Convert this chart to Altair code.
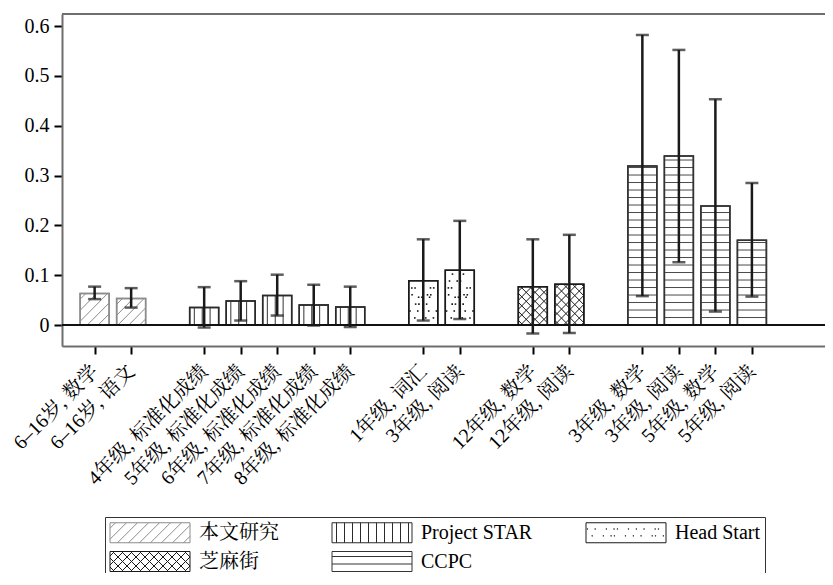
import altair as alt
import numpy as np
import pandas as pd

# ---------------- data ----------------
labels = ["6–16岁, 数学", "6–16岁, 语文",
          "4年级, 标准化成绩", "5年级, 标准化成绩", "6年级, 标准化成绩", "7年级, 标准化成绩", "8年级, 标准化成绩",
          "1年级, 词汇", "3年级, 阅读",
          "12年级, 数学", "12年级, 阅读",
          "3年级, 数学", "3年级, 阅读", "5年级, 数学", "5年级, 阅读"]
studies = ["本文研究"] * 2 + ["Project STAR"] * 5 + ["Head Start"] * 2 + ["芝麻街"] * 2 + ["CCPC"] * 4
slots = [0, 1, 3, 4, 5, 6, 7, 9, 10, 12, 13, 15, 16, 17, 18]
effects = [0.063, 0.053, 0.035, 0.048, 0.059, 0.040, 0.036, 0.089, 0.110, 0.077, 0.082, 0.319, 0.339, 0.239, 0.170]
lows = [0.052, 0.035, -0.005, 0.009, 0.019, -0.001, -0.004, 0.009, 0.012, -0.017, -0.016, 0.058, 0.126, 0.027, 0.057]
highs = [0.077, 0.074, 0.076, 0.088, 0.101, 0.081, 0.077, 0.172, 0.209, 0.172, 0.181, 0.582, 0.552, 0.453, 0.285]
study_order = ["本文研究", "Project STAR", "Head Start", "芝麻街", "CCPC"]
y_ticks = [0, 0.1, 0.2, 0.3, 0.4, 0.5, 0.6]

# ---------------- styling ----------------
FONT = "Liberation Serif, Noto Serif CJK SC, Noto Sans CJK SC"
GRAY = "#6e6e6e"
edge_colors = {"本文研究": "#8c8c8c", "Project STAR": "#2a2a2a", "Head Start": "#1a1a1a",
               "芝麻街": "#1a1a1a", "CCPC": "#333333"}
pattern_colors = {"本文研究": "#8c8c8c", "Project STAR": "#333333", "Head Start": "#111111",
                  "芝麻街": "#1a1a1a", "CCPC": "#4a4a4a"}
patterns = {"本文研究": [("/", 11)], "Project STAR": [("v", 8)], "Head Start": [("dots", 6)],
            "芝麻街": [("/", 9), ("\\", 9)], "CCPC": [("h", 7.5)]}

W, H = 763, 332
PX_SLOT = 37.0
X0 = -28 / PX_SLOT
X1 = X0 + W / PX_SLOT
Y0, Y1 = -0.0421, 0.6241
PX_Y = H / (Y1 - Y0)
BAR_W = 29


def hatch(kind, w, h, spacing):
    """Segments (u0, v0, u1, v1) in px inside a w x h box (v measured upward)."""
    out = []
    if kind == "v":
        u = spacing / 2 + 0.5
        while u < w - 1:
            out.append((u, 0, u, h))
            u += spacing
    elif kind == "h":
        v = spacing
        while v < h - 1:
            out.append((0, v, w, v))
            v += spacing
    elif kind == "/":
        for c in np.arange(-h + spacing / 2, w, spacing):
            u0, u1 = max(0, c), min(w, c + h)
            if u1 - u0 > 0.8:
                out.append((u0, u0 - c, u1, u1 - c))
    elif kind == "\\":
        for c in np.arange(spacing / 2, w + h, spacing):
            u0, u1 = max(0, c - h), min(w, c)
            if u1 - u0 > 0.8:
                out.append((u0, c - u0, u1, c - u1))
    return out


def dots(w, h, spacing):
    pts = []
    nx, ny = int(w // spacing) + 1, int(h // spacing) + 1
    for i in range(nx):
        for j in range(ny):
            if (i * 3 + j * 5) % 4 == 0:
                continue
            u = i * spacing + 2 + ((i * 7 + j * 3) % 5 - 2) * 0.9 + (j % 2) * spacing / 2
            v = j * spacing + 2 + ((i * 5 + j * 11) % 5 - 2) * 0.9
            if 1 < u < w - 1 and 1 < v < h - 1:
                pts.append((u, v))
    return pts


df = pd.DataFrame({"label": labels, "study": studies, "slot": slots,
                   "effect": effects, "low": lows, "high": highs})
df["edge"] = df["study"].map(edge_colors)
df["base"] = 0.0

seg_rows, dot_rows = [], []
for s, e, st in zip(slots, effects, studies):
    h = e * PX_Y
    for kind, sp in patterns[st]:
        if kind == "dots":
            for u, v in dots(BAR_W, h, sp):
                dot_rows.append({"x": s + (u - BAR_W / 2) / PX_SLOT, "y": v / PX_Y})
        else:
            for u0, v0, u1, v1 in hatch(kind, BAR_W, h, sp):
                seg_rows.append({"x": s + (u0 - BAR_W / 2) / PX_SLOT, "y": v0 / PX_Y,
                                 "x2": s + (u1 - BAR_W / 2) / PX_SLOT, "y2": v1 / PX_Y,
                                 "c": pattern_colors[st]})
segs = pd.DataFrame(seg_rows)
dts = pd.DataFrame(dot_rows)

# legend symbol paths (unit = 10 px, symbol 80 x 20 px)
LW, LH, U = 80.0, 20.0, 10.0


def to_path(u, v):
    return f"{(u - LW / 2) / U:.3f},{(LH / 2 - v) / U:.3f}"


legend_paths = []
for st in study_order:
    p = f"M{to_path(0, 0)}L{to_path(LW, 0)}L{to_path(LW, LH)}L{to_path(0, LH)}Z"
    for kind, sp in patterns[st]:
        if kind == "dots":
            for u, v in dots(LW, LH, sp):
                p += f"M{to_path(u, v)}h0.05v0.05h-0.05Z"
        else:
            for u0, v0, u1, v1 in hatch(kind, LW, LH, sp):
                p += f"M{to_path(u0, v0)}L{to_path(u1, v1)}"
    legend_paths.append(p)
legend_strokes = [edge_colors[s] for s in study_order]

x_label_expr = "[" + ",".join(f"'{l}'" for l in labels) + "][indexof([" + ",".join(str(s) for s in slots) + "], datum.value)]"

xscale = alt.Scale(domain=[X0, X1], nice=False, zero=False)
yscale = alt.Scale(domain=[Y0, Y1], nice=False, zero=False)

x_axis = alt.Axis(values=slots, labelExpr=x_label_expr, labelAngle=-45, labelAlign="right",
                  labelBaseline="middle", tickSize=8, tickWidth=2, tickColor="black",
                  domainColor=GRAY, domainWidth=2, labelFontSize=20, labelFont=FONT,
                  labelColor="black", labelPadding=14, title=None, grid=False,
                  labelOverlap=False, labelFlush=False, labelBound=False)
y_axis = alt.Axis(values=y_ticks, labelExpr="datum.value == 0 ? '0' : format(datum.value, '.1f')",
                  tickSize=8, tickWidth=2, tickColor="black", domainColor=GRAY, domainWidth=2,
                  labelFontSize=20, labelFont=FONT, labelColor="black", labelPadding=5,
                  title=None, grid=False)

base = alt.Chart(df)

bars = base.mark_bar(width=BAR_W, fill="white", strokeWidth=1.5).encode(
    x=alt.X("slot:Q", scale=xscale, axis=x_axis),
    y=alt.Y("effect:Q", scale=yscale, axis=y_axis),
    y2="base:Q",
    stroke=alt.Stroke("edge:N", scale=None),
)

pattern_lines = alt.Chart(segs).mark_rule(strokeWidth=1).encode(
    x="x:Q", y="y:Q", x2="x2:Q", y2="y2:Q", stroke=alt.Stroke("c:N", scale=None))

pattern_dots = alt.Chart(dts).mark_square(size=2.5, color="#111111", opacity=1).encode(
    x="x:Q", y="y:Q")

outline = base.mark_bar(width=BAR_W, fillOpacity=0, strokeWidth=1.5).encode(
    x="slot:Q", y="effect:Q", y2="base:Q", stroke=alt.Stroke("edge:N", scale=None))

zero_line = alt.Chart(df).mark_rule(color="#111111", strokeWidth=2).encode(y=alt.datum(0))
top_line = alt.Chart(df).mark_rule(color=GRAY, strokeWidth=2).encode(y=alt.value(0))

err = base.mark_rule(color="#1a1a1a", strokeWidth=2.5).encode(x="slot:Q", y="low:Q", y2="high:Q")
cap_hi = base.mark_tick(orient="horizontal", size=13, thickness=2.5, color="#1a1a1a").encode(
    x="slot:Q", y="high:Q")
cap_lo = base.mark_tick(orient="horizontal", size=13, thickness=2.5, color="#1a1a1a").encode(
    x="slot:Q", y="low:Q")

leg = alt.Legend(title=None, orient="none", legendX=43, legendY=503, direction="horizontal",
                 columns=3, symbolSize=400, symbolOffset=29.5, labelOffset=38.5,
                 symbolFillColor="white", symbolOpacity=1, symbolStrokeWidth=1,
                 labelFontSize=20, labelFont=FONT, labelColor="black", strokeColor="#333333",
                 padding=5, rowPadding=4, columnPadding=51, fillColor="white", labelLimit=0)

legend_layer = base.mark_point(opacity=0).encode(
    x="slot:Q", y="effect:Q",
    shape=alt.Shape("study:N", scale=alt.Scale(domain=study_order, range=legend_paths), legend=leg),
    stroke=alt.Stroke("study:N", scale=alt.Scale(domain=study_order, range=legend_strokes), legend=leg),
)

chart = alt.layer(bars, pattern_lines, pattern_dots, outline, zero_line, top_line,
                  err, cap_hi, cap_lo, legend_layer).properties(
    width=W, height=H,
    padding={"left": 54, "top": 6, "right": 0, "bottom": 227},
    autosize=alt.AutoSizeParams(type="none"),
).configure_view(stroke=None).configure(font=FONT)

chart.save("out.html", embed_options={"renderer": "svg", "actions": False})
